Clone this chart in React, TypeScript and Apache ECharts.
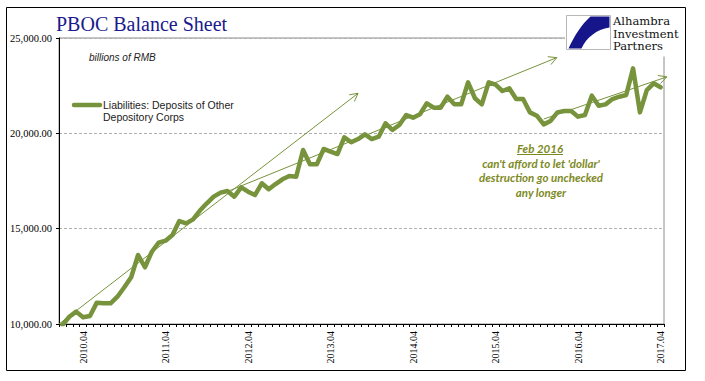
import React, { useEffect, useRef } from 'react';
import * as echarts from 'echarts';

// Monthly categories 2010.01 .. 2017.04
const FIRST_YEAR = 2010;
const LAST_YEAR = 2017;
const LAST_MONTH = 4;
const months: string[] = [];
for (let y = FIRST_YEAR; y <= LAST_YEAR; y++) {
  for (let m = 1; m <= 12; m++) {
    if (y === LAST_YEAR && m > LAST_MONTH) break;
    months.push(`${y}.${m < 10 ? '0' + m : m}`);
  }
}

// Liabilities: Deposits of Other Depository Corps (billions of RMB)
const deposits: number[] = [
  9950, 10380, 10650, 10350, 10420, 11120, 11085, 11085, 11430, 11925, 12450, 13620,
  12975, 13790, 14265, 14370, 14670, 15400, 15280, 15490, 15950, 16330, 16680, 16890,
  16975, 16680, 17170, 16940, 16765, 17380, 17065, 17340, 17590, 17760, 17725, 19125,
  18375, 18375, 19180, 19040, 18915, 19790, 19530, 19700, 19950, 19700, 19825, 20525,
  20175, 20440, 20960, 20820, 21000, 21575, 21345, 21345, 21920, 21520, 21520, 22675,
  21840, 21520, 22675, 22550, 22220, 22360, 21800, 21800, 21100, 20925, 20470, 20650,
  21100, 21170, 21170, 20875, 20960, 21975, 21450, 21520, 21800, 21920, 22010, 23410,
  21100, 22270, 22625, 22415,
];

const Y_MIN = 10000;
const Y_MAX = 25000;
const Y_STEP = 5000;

// trend arrows: [startMonthIndex, startValue], [endMonthIndex, endValue]
const arrowStarts: [number, number][] = [[-0.5, 10000], [23.8, 16920], [70.0, 20750]];
const arrowEnds: [number, number][] = [[43.0, 22100], [71.9, 23970], [87.9, 22960]];

const TITLE = 'PBOC Balance Sheet';
const UNIT = 'billions of RMB';
const SERIES_NAME = 'Liabilities: Deposits of Other\nDepository Corps';
const NOTE_HEAD = 'Feb 2016';
const NOTE_LINES = ["can't afford to let 'dollar'", 'destruction go unchecked', 'any longer'];
const LOGO_LINES = ['Alhambra', 'Investment', 'Partners'];

const GREEN = '#77933c';
const NOTE_COLOR = '#7d8a24';
const NAVY = '#1a1a8c';

echarts.graphic.registerShape(
  'aipLogo',
  echarts.graphic.extendPath('M24,1 L43,1 L43,12 C30,14 20,22 15,33 L2,33 C8,20 15,9 24,1 Z', {})
);

export default function App() {
  const ref = useRef<HTMLDivElement>(null);
  useEffect(() => {
    const el = ref.current!;
    const chart = echarts.init(el, null, { renderer: 'svg' });
    chart.setOption({
      animation: false,
      title: {
        text: TITLE,
        left: 56,
        top: 12,
        padding: 0,
        textStyle: { fontFamily: 'Liberation Serif', fontSize: 20, fontWeight: 'normal', color: NAVY, lineHeight: 24 },
      },
      grid: {
        left: 59,
        right: 41,
        top: 38,
        bottom: 57,
        show: true,
        borderColor: '#8c8c8c',
        borderWidth: 1,
        backgroundColor: 'transparent',
      },
      xAxis: {
        type: 'category',
        data: months,
        boundaryGap: true,
        axisLine: { show: true, lineStyle: { color: '#000', width: 1 } },
        axisTick: { show: true, interval: 0, length: 3, lineStyle: { color: '#000' } },
        axisLabel: {
          interval: (idx: number) => idx % 12 === 3,
          rotate: 90,
          margin: 7,
          fontFamily: 'Liberation Serif',
          fontSize: 10,
          color: '#000',
        },
        splitLine: { show: false },
      },
      yAxis: {
        type: 'value',
        min: Y_MIN,
        max: Y_MAX,
        interval: Y_STEP,
        axisLine: { show: true, lineStyle: { color: '#000', width: 1 } },
        axisTick: { show: true, length: 3, lineStyle: { color: '#000' } },
        axisLabel: {
          margin: 7,
          fontFamily: 'Liberation Serif',
          fontSize: 10.5,
          color: '#000',
          formatter: (v: number) =>
            v.toLocaleString('en-US', { minimumFractionDigits: 2, maximumFractionDigits: 2 }),
        },
        splitLine: { show: true, lineStyle: { color: '#b0b0b0', type: [3, 2], width: 1 } },
      },
      series: [
        {
          name: SERIES_NAME,
          type: 'line',
          data: deposits,
          symbol: 'none',
          clip: true,
          lineStyle: { color: GREEN, width: 4.5, join: 'round', cap: 'round' },
          itemStyle: { color: GREEN },
        },
      ],
    });

    const toPx = (i: number, v: number): number[] => {
      const a = chart.convertToPixel({ gridIndex: 0 }, [0, v]) as number[];
      const b = chart.convertToPixel({ gridIndex: 0 }, [1, v]) as number[];
      return [a[0] + i * (b[0] - a[0]), a[1]];
    };

    const arrowEls: any[] = [];
    arrowStarts.forEach((s, k) => {
      const e = arrowEnds[k];
      const p0 = toPx(s[0], s[1]);
      const p1 = toPx(e[0], e[1]);
      const ang = Math.atan2(p1[1] - p0[1], p1[0] - p0[0]);
      const hl = 9;
      const ha = (28 * Math.PI) / 180;
      const l = [p1[0] - hl * Math.cos(ang - ha), p1[1] - hl * Math.sin(ang - ha)];
      const r = [p1[0] - hl * Math.cos(ang + ha), p1[1] - hl * Math.sin(ang + ha)];
      arrowEls.push({
        type: 'line',
        z: 20,
        shape: { x1: p0[0], y1: p0[1], x2: p1[0], y2: p1[1] },
        style: { stroke: GREEN, lineWidth: 1 },
        silent: true,
      });
      arrowEls.push({
        type: 'polyline',
        z: 20,
        shape: { points: [l, p1, r] },
        style: { stroke: GREEN, lineWidth: 1, fill: null },
        silent: true,
      });
    });

    const logoTexts = LOGO_LINES.map((t, k) => ({
      type: 'text',
      z: 27,
      x: 613,
      y: 22 + k * 12.3,
      scaleX: 1.1,
      style: {
        text: t,
        fontFamily: 'DejaVu Serif',
        fontSize: 10.5,
        lineHeight: 12,
        fill: '#111',
        textAlign: 'left',
        textVerticalAlign: 'middle',
      },
    }));

    const noteTexts = NOTE_LINES.map((t, k) => ({
      type: 'text',
      z: 20,
      x: 541,
      y: 163 + k * 14.6,
      style: {
        text: t,
        fontFamily: 'Lato',
        fontStyle: 'italic',
        fontWeight: 'bold',
        fontSize: 11.5,
        fill: NOTE_COLOR,
        textAlign: 'center',
        textVerticalAlign: 'middle',
      },
    }));

    chart.setOption({
      graphic: [
        {
          type: 'rect',
          z: 30,
          shape: { x: 6.5, y: 7.5, width: 679, height: 363 },
          style: { stroke: '#000', lineWidth: 1, fill: null },
          silent: true,
        },
        // cover behind logo
        {
          type: 'rect',
          z: 25,
          shape: { x: 565, y: 9, width: 120, height: 47.5 },
          style: { fill: '#fff', stroke: null },
          silent: true,
        },
        {
          type: 'rect',
          z: 26,
          shape: { x: 566.5, y: 15.5, width: 44, height: 34 },
          style: { fill: '#fff', stroke: '#b8b8b8', lineWidth: 1 },
          silent: true,
        },
        {
          type: 'aipLogo',
          z: 27,
          x: 566.5,
          y: 15.5,
          style: { fill: '#16168a' },
          silent: true,
        },
        ...logoTexts,
        {
          type: 'text',
          z: 20,
          x: 89,
          y: 57,
          style: {
            text: UNIT,
            fontFamily: 'Liberation Sans',
            fontStyle: 'italic',
            fontSize: 10,
            fill: '#222',
            textAlign: 'left',
            textVerticalAlign: 'middle',
          },
        },
        // legend
        {
          type: 'line',
          z: 20,
          shape: { x1: 74, y1: 105, x2: 100, y2: 105 },
          style: { stroke: GREEN, lineWidth: 4.5, lineCap: 'round' },
          silent: true,
        },
        {
          type: 'text',
          z: 20,
          x: 103,
          y: 98.5,
          style: {
            text: SERIES_NAME,
            fontFamily: 'Liberation Sans',
            fontSize: 10.5,
            lineHeight: 12.5,
            fill: '#222',
            textAlign: 'left',
            textVerticalAlign: 'top',
          },
        },
        // annotation
        {
          type: 'text',
          z: 20,
          x: 540,
          y: 148,
          style: {
            text: NOTE_HEAD,
            fontFamily: 'Lato',
            fontStyle: 'italic',
            fontWeight: 'bold',
            fontSize: 11.5,
            fill: NOTE_COLOR,
            textAlign: 'center',
            textVerticalAlign: 'middle',
          },
        },
        {
          type: 'line',
          z: 20,
          shape: { x1: 517, y1: 154.5, x2: 563, y2: 154.5 },
          style: { stroke: NOTE_COLOR, lineWidth: 1 },
          silent: true,
        },
        ...noteTexts,
        ...arrowEls,
      ],
    });
    return () => chart.dispose();
  }, []);
  return (
    <div
      ref={ref}
      style={{ position: 'absolute', left: 0, top: 0, width: 705, height: 381, background: '#fff' }}
    />
  );
}
